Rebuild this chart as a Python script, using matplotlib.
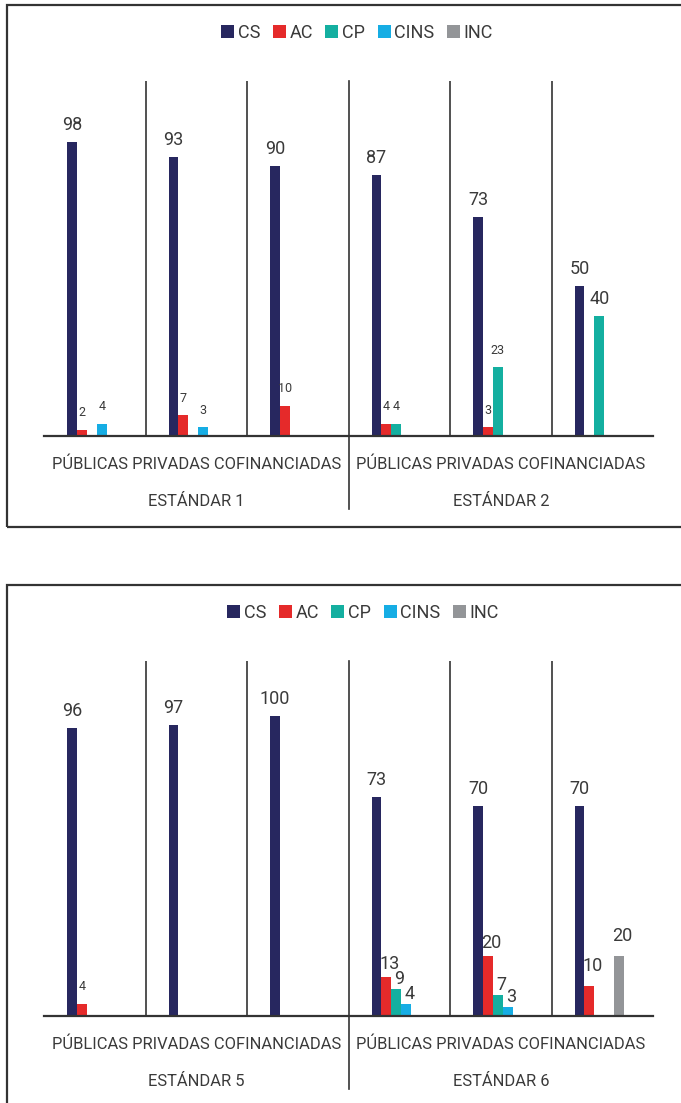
import numpy as np
import matplotlib
matplotlib.use("Agg")
import matplotlib.pyplot as plt
from matplotlib.patches import Patch, Rectangle
from matplotlib.lines import Line2D

plt.rcParams['font.family'] = ['Roboto', 'DejaVu Sans']

# Datos (None = sin barra)
series = ["CS", "AC", "CP", "CINS", "INC"]
colors = ["#27275F", "#E52A2A", "#14AFA0", "#16ADE4", "#939598"]
group_labels = "PÚBLICAS PRIVADAS COFINANCIADAS"

top_standards = ["ESTÁNDAR 1", "ESTÁNDAR 2"]
top_cs = [98, 93, 90, 87, 73, 50]
top_ac = [2, 7, 10, 4, 3, None]
top_cp = [None, None, None, 4, 23, 40]
top_cins = [4, 3, None, None, None, None]
top_inc = [None, None, None, None, None, None]

bot_standards = ["ESTÁNDAR 5", "ESTÁNDAR 6"]
bot_cs = [96, 97, 100, 73, 70, 70]
bot_ac = [4, None, None, 13, 20, 10]
bot_cp = [None, None, None, 9, 7, None]
bot_cins = [None, None, None, 4, 3, None]
bot_inc = [None, None, None, None, None, 20]

W, H = 681, 1103
fig = plt.figure(figsize=(W / 100, H / 100), dpi=100)
INK = "#333333"
TXT = "#3a3a3a"


def fx(px):
    return px / W


def fy(py):
    return 1 - py / H


def draw_panel(base_px, top_px, values, standards, big_minor, legend_y, legend_x):
    ax = fig.add_axes([fx(44), fy(base_px), fx(653) - fx(44), (base_px - top_px) / H])
    ymax = (base_px - top_px) / 3.0
    ax.set_xlim(-0.5, 5.5)
    ax.set_ylim(0, ymax)
    ax.axis("off")

    bw = 0.098
    for k, (name, vals) in enumerate(zip(series, values)):
        for g, v in enumerate(vals):
            if v is None:
                continue
            x = g - 0.224 + bw * k
            ax.bar(x, v, width=bw, color=colors[k], linewidth=0)
            major = v >= 30
            if major:
                fs, dx, dy = 13, 0, 17
            elif big_minor and g >= 3:
                # etiquetas grandes y pegadas a la barra (estándar 6)
                if g == 5:
                    dy = 20
                elif k == 1:
                    dy = 13
                else:
                    dy = 10
                fs, dx = 13, 3
            else:
                fs, dx, dy = 9, 0, 17
            ax.annotate(str(v), (x, v), xytext=(dx, dy), textcoords="offset pixels",
                        ha="center", va="center", fontsize=fs, color=TXT)

    # separadores
    for s in [0.5, 1.5, 3.5, 4.5]:
        ax.axvline(s, 0, 1, color=INK, lw=1.2)
    ax.add_line(Line2D([2.5, 2.5], [ymax, -(73 / 3.0)], color=INK, lw=1.2, clip_on=False))
    ax.axhline(0, color=INK, lw=1.6, clip_on=False)

    # etiquetas de categoria
    for i, std in enumerate(standards):
        ax.text(1 + 3 * i, -(28 / 3.0), group_labels, ha="center", va="center",
                fontsize=11.9, color=TXT)
        ax.text(1 + 3 * i, -(65 / 3.0), std, ha="center", va="center",
                fontsize=11.9, color=TXT)

    handles = [Patch(facecolor=c, edgecolor="none") for c in colors]
    fig.legend(handles, series, loc="center", bbox_to_anchor=(fx(legend_x), fy(legend_y)),
               ncol=5, frameon=False, fontsize=13, handlelength=0.72, handleheight=0.72,
               handletextpad=0.2, columnspacing=0.7, borderpad=0, labelcolor=TXT)
    return ax


draw_panel(436, 81, [top_cs, top_ac, top_cp, top_cins, top_inc], top_standards,
           False, 33, 357)
draw_panel(1016, 661, [bot_cs, bot_ac, bot_cp, bot_cins, bot_inc], bot_standards,
           True, 613, 363)

# marcos
fig.add_artist(Rectangle((fx(6.5), fy(527)), 1.0, (527 - 5) / H, transform=fig.transFigure,
                         fill=False, ec=INK, lw=1.6))
fig.add_artist(Rectangle((fx(6.5), fy(1120)), 1.0, (1120 - 585) / H, transform=fig.transFigure,
                         fill=False, ec=INK, lw=1.6))

fig.savefig("out.png", dpi=100, facecolor="white")
